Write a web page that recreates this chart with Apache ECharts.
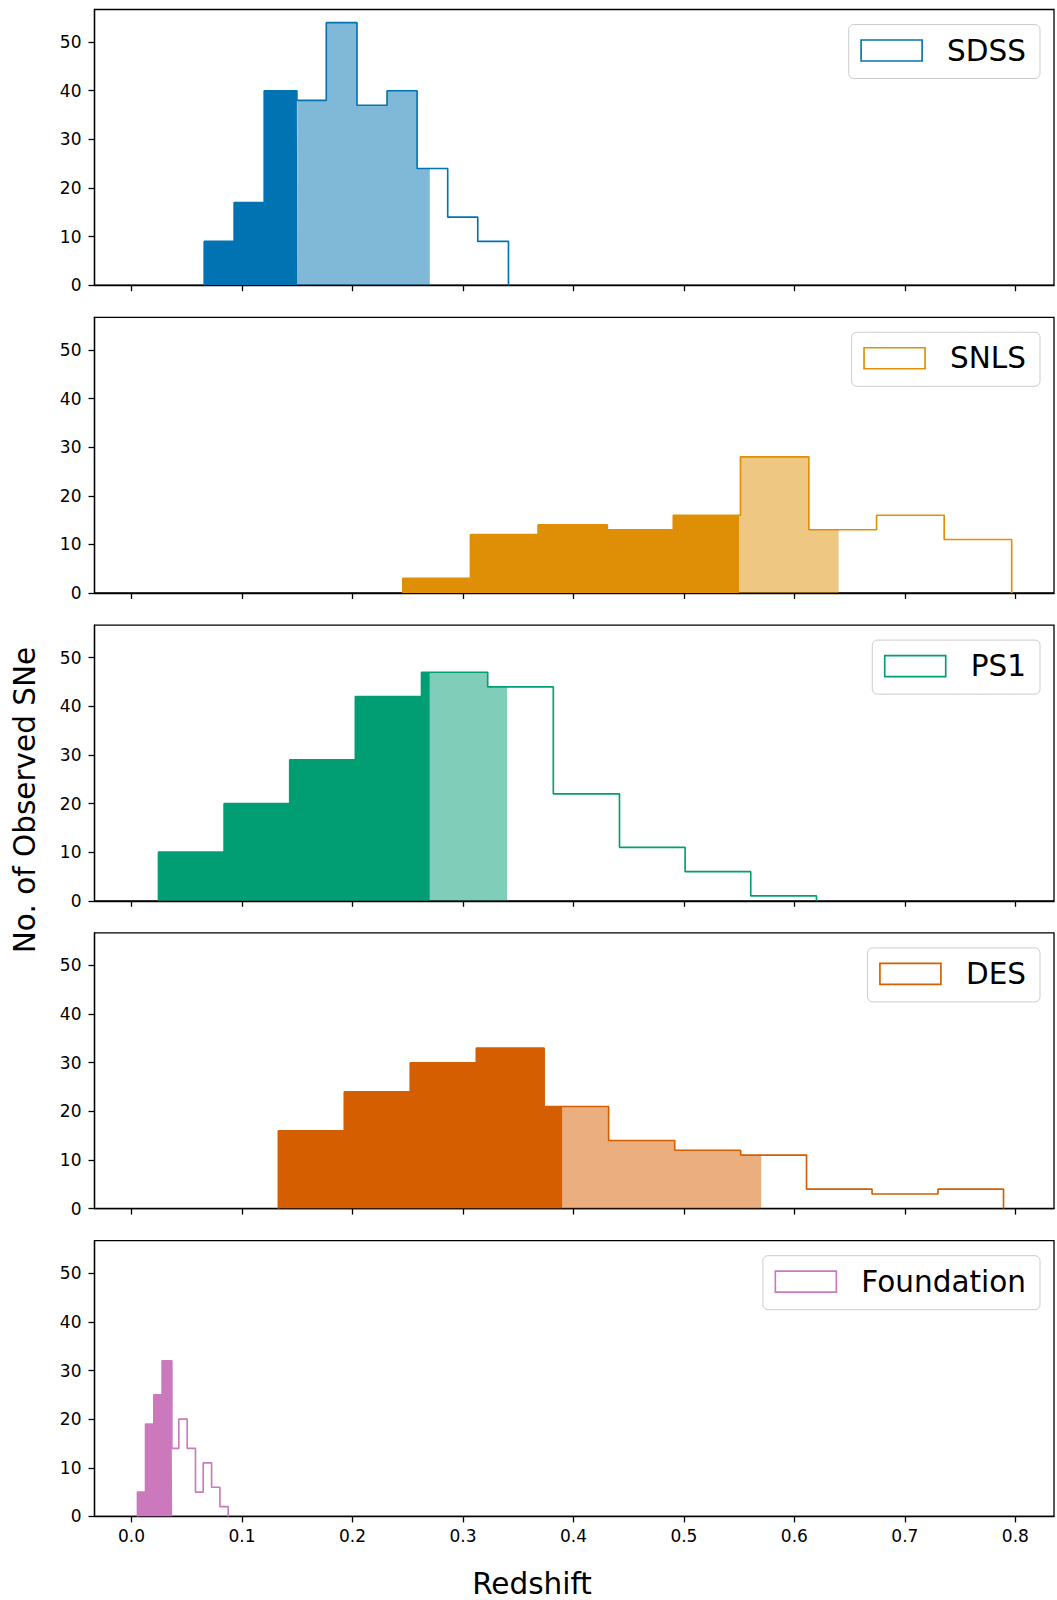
<!DOCTYPE html>
<html>
<head>
<meta charset="utf-8">
<script src="https://cdn.jsdelivr.net/npm/echarts@6/dist/echarts.min.js"></script>
<style>
html,body{margin:0;padding:0;background:#fff;}
#chart{width:1057px;height:1600px;}
</style>
</head>
<body>
<div id="chart"></div>
<script>
// ---------- data ----------
const surveys = ['SDSS', 'SNLS', 'PS1', 'DES', 'Foundation'];
const colors = ['#0173b2', '#de8f05', '#029e73', '#d55e00', '#cc78bc'];

const sdssEdges = [0.0658, 0.0929, 0.1201, 0.1497, 0.1763, 0.2041, 0.2313, 0.2585, 0.2862, 0.3134, 0.3412];
const sdssCounts = [9, 17, 40, 38, 54, 37, 40, 24, 14, 9];
const sdssCuts = [0.15, 0.27];

const snlsEdges = [0.2456, 0.3068, 0.3680, 0.4307, 0.4904, 0.5512, 0.6131, 0.6744, 0.7356, 0.7967];
const snlsCounts = [3, 12, 14, 13, 16, 28, 13, 16, 11];
const snlsCuts = [0.55, 0.64];

const ps1Edges = [0.0244, 0.0838, 0.1432, 0.2026, 0.2625, 0.3224, 0.3818, 0.4417, 0.5011, 0.5605, 0.6200];
const ps1Counts = [10, 20, 29, 42, 47, 44, 22, 11, 6, 1];
const ps1Cuts = [0.27, 0.34];

const desEdges = [0.1329, 0.1926, 0.2523, 0.3121, 0.3735, 0.4319, 0.4917, 0.5514, 0.6110, 0.6703, 0.7300, 0.7893];
const desCounts = [16, 24, 30, 33, 21, 14, 12, 11, 4, 3, 4];
const desCuts = [0.39, 0.57];

const foundEdges = [0.0054, 0.0127, 0.0202, 0.0277, 0.0365, 0.0428, 0.0504, 0.0579, 0.0649, 0.0725, 0.0800, 0.0875];
const foundCounts = [5, 19, 25, 32, 14, 20, 14, 5, 11, 6, 2];
const foundCuts = [0.0368, 0.0368];

const xTicks = [0.0, 0.1, 0.2, 0.3, 0.4, 0.5, 0.6, 0.7, 0.8];
const yTicks = [0, 10, 20, 30, 40, 50];

// ---------- build ----------
const hists = [
  {edges: sdssEdges, counts: sdssCounts, cuts: sdssCuts},
  {edges: snlsEdges, counts: snlsCounts, cuts: snlsCuts},
  {edges: ps1Edges, counts: ps1Counts, cuts: ps1Cuts},
  {edges: desEdges, counts: desCounts, cuts: desCuts},
  {edges: foundEdges, counts: foundCounts, cuts: foundCuts}
];

function stepPts(edges, counts, a, b) {
  const pts = [[a, 0]];
  for (let i = 0; i < counts.length; i++) {
    const x0 = Math.max(edges[i], a), x1 = Math.min(edges[i + 1], b);
    if (x1 <= x0) continue;
    pts.push([x0, counts[i]], [x1, counts[i]]);
  }
  pts.push([b, 0]);
  return pts;
}
function hexA(hex, a) {
  const n = parseInt(hex.slice(1), 16);
  return 'rgba(' + (n >> 16) + ',' + ((n >> 8) & 255) + ',' + (n & 255) + ',' + a + ')';
}

const FONT = 'DejaVu Sans';
const panelTop0 = 9.5, panelStep = 307.8, panelH = 275.7;
const gridLeft = 94.5, gridRight = 1054;

const grids = [], xAxes = [], yAxes = [], series = [], legends = [];
hists.forEach((h, i) => {
  const top = panelTop0 + i * panelStep;
  grids.push({left: gridLeft, top: top, width: gridRight - gridLeft, height: panelH,
    show: true, borderColor: '#000', borderWidth: 1.3, backgroundColor: 'transparent'});
  xAxes.push({type: 'value', gridIndex: i, min: -0.0335, max: 0.835, position: 'bottom',
    axisLine: {show: true, onZero: false, lineStyle: {color: '#000', width: 1.3}},
    axisTick: {show: true, length: 6, customValues: xTicks, lineStyle: {color: '#000', width: 1.3}},
    axisLabel: {show: i === 4, customValues: xTicks, margin: 11, fontSize: 17, fontFamily: FONT, color: '#000',
      formatter: v => v.toFixed(1)},
    splitLine: {show: false}});
  yAxes.push({type: 'value', gridIndex: i, min: 0, max: 56.7, position: 'left',
    axisLine: {show: true, onZero: false, lineStyle: {color: '#000', width: 1.3}},
    axisTick: {show: true, length: 6, customValues: yTicks, lineStyle: {color: '#000', width: 1.3}},
    axisLabel: {show: true, customValues: yTicks, margin: 13, fontSize: 17, fontFamily: FONT, color: '#000'},
    splitLine: {show: false}});
  const e0 = h.edges[0], eN = h.edges[h.edges.length - 1];
  // dark fill
  series.push({type: 'line', name: surveys[i] + ' core', xAxisIndex: i, yAxisIndex: i,
    data: stepPts(h.edges, h.counts, e0, h.cuts[0]), symbol: 'none', silent: true,
    lineStyle: {width: 0}, areaStyle: {color: colors[i], opacity: 1}, z: 2});
  // light fill
  if (h.cuts[1] > h.cuts[0]) {
    series.push({type: 'line', name: surveys[i] + ' extra', xAxisIndex: i, yAxisIndex: i,
      data: stepPts(h.edges, h.counts, h.cuts[0], h.cuts[1]), symbol: 'none', silent: true,
      lineStyle: {width: 0}, areaStyle: {color: hexA(colors[i], 0.5), opacity: 1}, z: 2});
  }
  // outline
  series.push({type: 'line', name: surveys[i], xAxisIndex: i, yAxisIndex: i,
    data: stepPts(h.edges, h.counts, e0, eN), symbol: 'none', silent: true,
    lineStyle: {width: 1.65, color: colors[i]}, itemStyle: {color: colors[i]}, z: 3});
  legends.push({
    data: [{name: surveys[i], icon: 'rect', itemStyle: {color: '#fff', borderColor: colors[i], borderWidth: 1.65}}],
    right: 17, top: top + 15, orient: 'vertical', selectedMode: false,
    itemWidth: 61, itemHeight: 21,
    padding: [11, 14, 13, 11.6],
    backgroundColor: 'rgba(255,255,255,0.8)', borderColor: '#cccccc', borderWidth: 1, borderRadius: 5,
    textStyle: {fontSize: 29.5, fontFamily: FONT, color: '#000', padding: [0, 0, 0, 20]}
  });
});

const chart = echarts.init(document.getElementById('chart'), null, {renderer: 'svg'});
chart.setOption({
  animation: false,
  backgroundColor: '#fff',
  grid: grids, xAxis: xAxes, yAxis: yAxes, series: series, legend: legends,
  graphic: [
    {type: 'text', x: 532, y: 1584, silent: true,
      style: {text: 'Redshift', x: 0, y: 0, textAlign: 'center', textVerticalAlign: 'middle',
        fontSize: 29.5, fontFamily: FONT, fill: '#000'}},
    {type: 'text', x: 24.5, y: 800, rotation: Math.PI / 2, silent: true,
      style: {text: 'No. of Observed SNe', x: 0, y: 0, textAlign: 'center', textVerticalAlign: 'middle',
        fontSize: 29.5, fontFamily: FONT, fill: '#000'}}
  ]
});
</script>
</body>
</html>
